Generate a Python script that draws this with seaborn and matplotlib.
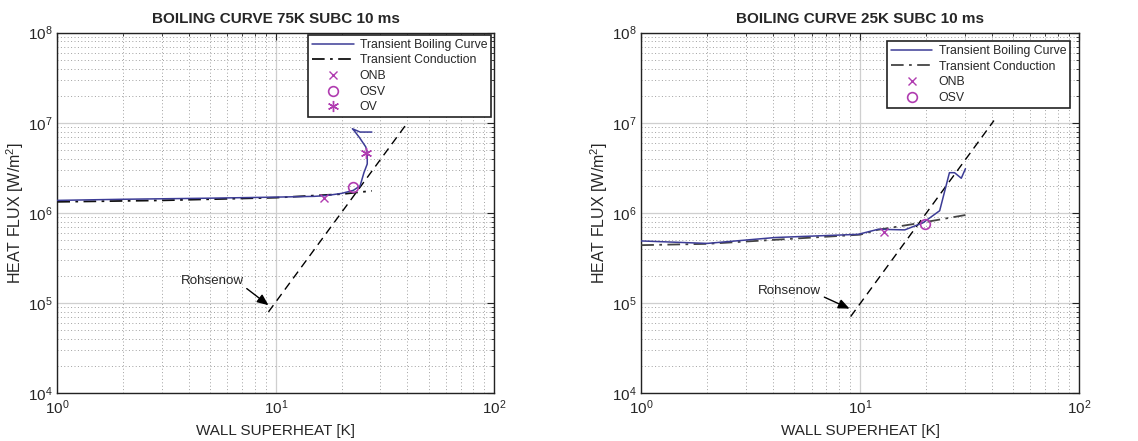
import numpy as np
import pandas as pd
import matplotlib
matplotlib.use("Agg")
import matplotlib.pyplot as plt
import seaborn as sns

# ---------------- data ----------------
# Left panel: 75K subcooling
boil75_x = [1.0, 2.0, 5.0, 10.0, 15.0, 17.0, 20.0, 22.6, 24.3, 25.3, 26.2, 26.2, 25.8, 24.2, 23.0, 22.4, 24.3, 27.5]
boil75_y = [1.38e6, 1.42e6, 1.46e6, 1.50e6, 1.53e6, 1.56e6, 1.65e6, 1.78e6, 2.0e6, 2.8e6, 3.5e6, 4.65e6, 5.4e6, 6.8e6, 8.0e6, 8.6e6, 7.9e6, 7.9e6]
cond75_x = [1.0, 3.0, 10.0, 20.0, 27.5]
cond75_y = [1.33e6, 1.38e6, 1.48e6, 1.62e6, 1.76e6]
rohs75_x = [9.25, 40.0]
rohs75_y = [8.0e4, 1.0e7]
onb75 = (16.6, 1.45e6)
osv75 = (22.6, 1.93e6)
ov75 = (25.9, 4.65e6)

# Right panel: 25K subcooling
boil25_x = [1.0, 2.0, 4.1, 9.8, 12.1, 16.0, 19.4, 23.1, 25.6, 27.0, 29.0, 30.3]
boil25_y = [4.9e5, 4.6e5, 5.35e5, 5.8e5, 6.6e5, 6.5e5, 7.8e5, 1.06e6, 2.8e6, 2.8e6, 2.43e6, 3.1e6]
cond25_x = [1.0, 2.0, 10.0, 12.0, 19.7, 30.3]
cond25_y = [4.4e5, 4.55e5, 5.75e5, 6.5e5, 7.9e5, 9.5e5]
rohs25_x = [9.05, 40.9]
rohs25_y = [7.1e4, 1.06e7]
onb25 = (12.8, 6.2e5)
osv25 = (19.7, 7.55e5)

titles = ["BOILING CURVE 75K SUBC 10 ms", "BOILING CURVE 25K SUBC 10 ms"]
xlabel = "WALL SUPERHEAT [K]"
ylabel = "HEAT FLUX [W/m$^2$]"

# ---------------- style ----------------
sns.set_style("white")
plt.rcParams['font.family'] = ['Liberation Sans', 'DejaVu Sans']
plt.rcParams['mathtext.fontset'] = 'custom'
plt.rcParams['mathtext.rm'] = 'Liberation Sans'
plt.rcParams['mathtext.it'] = 'Liberation Sans:italic'
plt.rcParams['mathtext.bf'] = 'Liberation Sans:bold'

BLUE = '#3c3c96'
MAG = '#b03cb0'

fig = plt.figure(figsize=(11.38, 4.41), dpi=100)
ax1 = fig.add_axes([0.0504, 0.108, 0.384, 0.818])
ax2 = fig.add_axes([0.5635, 0.108, 0.3846, 0.818])


def panel(ax, bx, by, cx, cy, rx, ry, markers, title, txt_xy, tip_xy, cond_color, leg_anchor):
    dfb = pd.DataFrame({'x': bx, 'y': by})
    dfc = pd.DataFrame({'x': cx, 'y': cy})
    dfr = pd.DataFrame({'x': rx, 'y': ry})
    sns.lineplot(data=dfb, x='x', y='y', ax=ax, sort=False, estimator=None,
                 color=BLUE, lw=1.1, label='Transient Boiling Curve', zorder=4)
    sns.lineplot(data=dfc, x='x', y='y', ax=ax, sort=False, estimator=None,
                 color=cond_color, lw=1.3, dashes=False, label='Transient Conduction', zorder=3)
    ax.lines[-1].set_linestyle((0, (7, 3, 1.5, 3)))
    sns.lineplot(data=dfr, x='x', y='y', ax=ax, sort=False, estimator=None,
                 color='black', lw=1.0, label='_nolegend_', zorder=3)
    ax.lines[-1].set_linestyle((0, (6, 4)))
    for (name, (mx, my), m) in markers:
        if m == 'o':
            ax.plot([mx], [my], linestyle='none', marker='o', ms=7, mfc='none',
                    mec=MAG, mew=1.2, label=name, zorder=5)
        elif m == 'x':
            ax.plot([mx], [my], linestyle='none', marker='x', ms=6, color=MAG,
                    mew=1.0, label=name, zorder=5)
        else:
            ax.plot([mx], [my], linestyle='none', marker=(6, 2, 0), ms=8, color=MAG,
                    mew=1.0, label=name, zorder=5)
    ax.set_xscale('log')
    ax.set_yscale('log')
    ax.set_xlim(1, 100)
    ax.set_ylim(1e4, 1e8)
    ax.grid(True, which='major', color='#cfcfcf', lw=0.9, ls='-', zorder=0)
    ax.grid(True, which='minor', color='#a0a0a0', lw=0.7, ls=(0, (1, 2.5)), zorder=0)
    ax.set_axisbelow(True)
    ax.tick_params(which='both', direction='in', top=True, right=True, labelsize=11,
                   color='#222222')
    ax.tick_params(which='major', length=5)
    ax.tick_params(which='minor', length=2.5)
    for s in ax.spines.values():
        s.set_color('#222222')
        s.set_linewidth(1.0)
    ax.set_title(title, fontsize=11, fontweight='bold', pad=7)
    ax.set_xlabel(xlabel, fontsize=11, labelpad=5)
    ax.set_ylabel(ylabel, fontsize=11.5)
    ax.yaxis.set_label_coords(-0.071, 0.5)
    ax.annotate('Rohsenow', xy=tip_xy, xytext=txt_xy, textcoords='data', fontsize=9.6,
                ha='center', va='center',
                arrowprops=dict(arrowstyle='-|>,head_length=0.7,head_width=0.3',
                                color='black', lw=1.0, shrinkA=0, shrinkB=0,
                                relpos=(1.0, 0.1)))
    leg = ax.legend(loc='upper right', bbox_to_anchor=leg_anchor, fontsize=8.8,
                    frameon=True, fancybox=False, edgecolor='#222222', framealpha=1,
                    handlelength=3.4, handletextpad=0.5, borderpad=0.3,
                    labelspacing=0.3, borderaxespad=0)
    leg.get_frame().set_linewidth(1.2)


panel(ax1, boil75_x, boil75_y, cond75_x, cond75_y, rohs75_x, rohs75_y,
      [('ONB', onb75, 'x'), ('OSV', osv75, 'o'), ('OV', ov75, '*')],
      titles[0], (5.1, 1.75e5), (9.25, 9.5e4), '#111111', (0.992, 0.993))
panel(ax2, boil25_x, boil25_y, cond25_x, cond25_y, rohs25_x, rohs25_y,
      [('ONB', onb25, 'x'), ('OSV', osv25, 'o')],
      titles[1], (4.76, 1.37e5), (8.95, 8.7e4), '#444444', (0.979, 0.976))

fig.savefig('out.png', dpi=100)
